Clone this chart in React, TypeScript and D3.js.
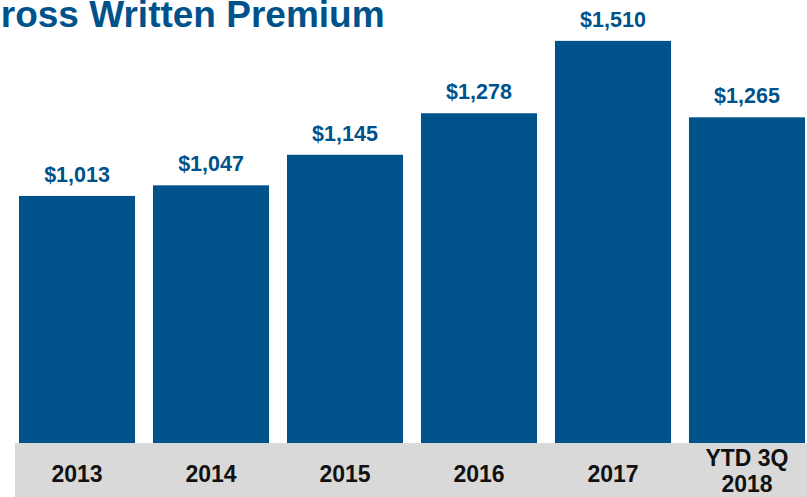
import { useEffect, useRef } from 'react'
import * as d3 from 'd3'

const categories = ['2013', '2014', '2015', '2016', '2017', 'YTD 3Q|2018']
const premiums = [1013, 1047, 1145, 1278, 1510, 1265]
const title = 'Gross Written Premium'

export default function App() {
  const svgRef = useRef<SVGSVGElement>(null)

  useEffect(() => {
    const width = 807
    const height = 497
    const blue = '#00528A'
    const font = 'Liberation Sans, Arial, sans-serif'

    const svg = d3.select(svgRef.current)
      .attr('width', width)
      .attr('height', height)

    svg.selectAll('*').remove()

    const x = d3.scaleBand<string>()
      .domain(categories)
      .range([19, 805])
      .paddingInner(0.134)
      .paddingOuter(0)

    // baseline sits under the grey band
    const y = d3.scaleLinear()
      .domain([0, 1641])
      .range([512, 0])

    const data = categories.map((c, i) => ({ cat: c, value: premiums[i] }))

    // bars
    svg.append('g')
      .selectAll('rect')
      .data(data)
      .join('rect')
      .attr('x', d => x(d.cat)!)
      .attr('y', d => y(d.value))
      .attr('width', x.bandwidth())
      .attr('height', d => y(0) - y(d.value))
      .attr('fill', blue)

    // value labels
    svg.append('g')
      .selectAll('text')
      .data(data)
      .join('text')
      .attr('x', d => x(d.cat)! + x.bandwidth() / 2)
      .attr('y', d => y(d.value) - 14)
      .attr('text-anchor', 'middle')
      .attr('font-family', font)
      .attr('font-weight', 'bold')
      .attr('font-size', 21.5)
      .attr('fill', blue)
      .text(d => '$' + d3.format(',')(d.value))

    // grey category band
    svg.append('rect')
      .attr('x', 15)
      .attr('y', 443)
      .attr('width', width - 15)
      .attr('height', height - 443)
      .attr('fill', '#D9D9D9')

    const labels = svg.append('g')
      .selectAll('text')
      .data(data)
      .join('text')
      .attr('text-anchor', 'middle')
      .attr('font-family', font)
      .attr('font-weight', 'bold')
      .attr('font-size', 23)
      .attr('fill', '#111')

    labels.each(function (d) {
      const lines = d.cat.split('|')
      const cx = x(d.cat)! + x.bandwidth() / 2
      const t = d3.select(this)
      if (lines.length === 1) {
        t.append('tspan').attr('x', cx).attr('y', 482).text(lines[0])
      } else {
        lines.forEach((l, i) => {
          t.append('tspan').attr('x', cx).attr('y', 466 + i * 26).text(l)
        })
      }
    })

    // title, clipped at the left edge like the source slide
    svg.append('text')
      .attr('x', -28)
      .attr('y', 27)
      .attr('font-family', font)
      .attr('font-weight', 'bold')
      .attr('font-size', 37)
      .attr('fill', blue)
      .text(title)
  }, [])

  return (
    <div>
      <svg ref={svgRef} style={{ position: 'fixed', top: 0, left: 0, background: '#fff' }}></svg>
    </div>
  )
}
